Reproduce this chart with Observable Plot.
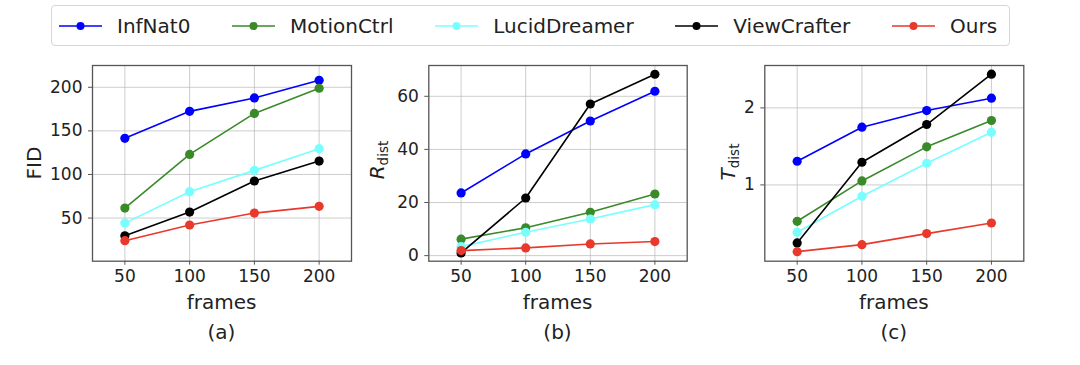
<!DOCTYPE html>
<html><head><meta charset="utf-8">
<script src="https://cdn.jsdelivr.net/npm/d3@7"></script>
<script src="https://cdn.jsdelivr.net/npm/@observablehq/plot@0.6"></script>
<style>
body{margin:0;background:#fff;font-family:"DejaVu Sans",sans-serif;}
#root{position:relative;width:1080px;height:365px;overflow:hidden;background:#fff}
.panel{position:absolute;top:0}
#legend{position:absolute;left:51px;top:5px;width:959px;height:41px;border:1px solid #d6d6d6;border-radius:4px;box-sizing:border-box;display:flex;align-items:center;padding-left:7px;font-size:20px;color:#222;z-index:2;background:#fff}
.item{display:flex;align-items:center;margin-right:41.7px;white-space:nowrap}
.item svg{margin-right:15px}
</style></head>
<body><div id="root"><div id="legend"></div></div>
<script>
const frames = [50, 100, 150, 200];
const methods = ["InfNat0", "MotionCtrl", "LucidDreamer", "ViewCrafter", "Ours"];
const colors = ["#0000ff", "#3a8a2a", "#77ffff", "#000000", "#e8392c"];
// values per method (order as methods), per frames
const fidValues = [
  [141.5, 172.4, 187.8, 208.0],
  [61.5, 123.0, 170.0, 198.9],
  [44.2, 80.2, 104.7, 129.6],
  [29.7, 56.9, 92.5, 115.4],
  [24.0, 42.0, 55.7, 63.4]
];
const rdistValues = [
  [23.6, 38.3, 50.7, 61.9],
  [6.2, 10.5, 16.3, 23.2],
  [3.4, 8.8, 13.8, 19.2],
  [1.0, 21.7, 57.1, 68.3],
  [1.9, 2.9, 4.4, 5.3]
];
const tdistValues = [
  [1.307, 1.749, 1.965, 2.126],
  [0.528, 1.052, 1.494, 1.836],
  [0.385, 0.853, 1.281, 1.684],
  [0.247, 1.294, 1.784, 2.437],
  [0.134, 0.225, 0.368, 0.506]
];
const fidTicks = [50, 100, 150, 200];
const rdistTicks = [0, 20, 40, 60];
const tdistTicks = [1, 2];

function toRows(values) {
  const rows = [];
  methods.forEach((m, i) => frames.forEach((f, j) => rows.push({method: m, frames: f, value: values[i][j]})));
  return rows;
}

const root = document.getElementById("root");

// legend
const legend = document.getElementById("legend");
methods.forEach((m, i) => {
  const it = document.createElement("div");
  it.className = "item";
  it.innerHTML = `<svg width="43" height="20"><line x1="0" y1="10" x2="43" y2="10" stroke="${colors[i]}" stroke-width="1.6"/><circle cx="21.5" cy="10" r="4" fill="${colors[i]}"/></svg><span>${m}</span>`;
  legend.appendChild(it);
});

function panel(values, yDomain, yTicks, left, ml, mr, caption, yLabel, yLabelX, yLabelY) {
  const data = toRows(values);
  const svg = Plot.plot({
    width: 360, height: 365,
    marginLeft: ml, marginRight: mr, marginTop: 65, marginBottom: 104.3,
    style: {fontFamily: "DejaVu Sans", fontSize: "17px", color: "#222", background: "transparent", overflow: "visible"},
    x: {domain: [25, 225]},
    y: {domain: yDomain},
    color: {domain: methods, range: colors},
    marks: [
      Plot.gridX(frames, {stroke: "#b8b8b8", strokeOpacity: 0.7, strokeWidth: 1}),
      Plot.gridY(yTicks, {stroke: "#b8b8b8", strokeOpacity: 0.7, strokeWidth: 1}),
      Plot.line(data, {x: "frames", y: "value", z: "method", stroke: "method", strokeWidth: 1.6}),
      Plot.dot(data, {x: "frames", y: "value", fill: "method", r: 4.6}),
      Plot.frame({stroke: "#555", strokeWidth: 1.3}),
      Plot.axisX(frames, {tickSize: 4, tickPadding: 5, label: null, stroke: "#555", fill: "#222", tickFormat: d => String(d)}),
      Plot.axisY(yTicks, {tickSize: 4, tickPadding: 6, label: null, stroke: "#555", fill: "#222", tickFormat: d => String(d)})
    ]
  });
  const s = d3.select(svg);
  const cx = ml + (360 - ml - mr) / 2;
  s.append("text").attr("x", cx).attr("y", 302).attr("dy", "0.35em")
    .attr("text-anchor", "middle").attr("font-size", 20).attr("fill", "#222").text("frames");
  s.append("text").attr("x", cx).attr("y", 332).attr("dy", "0.35em")
    .attr("text-anchor", "middle").attr("font-size", 20).attr("fill", "#222").text(caption);
  const yl = s.append("text")
    .attr("transform", `translate(${yLabelX},${yLabelY}) rotate(-90)`)
    .attr("dy", "0.35em").attr("text-anchor", "middle").attr("font-size", 20).attr("fill", "#222");
  if (yLabel.sub) {
    yl.append("tspan").attr("font-style", "italic").text(yLabel.main);
    yl.append("tspan").attr("font-size", 13.5).attr("dy", "0.3em").text(yLabel.sub);
  } else {
    yl.text(yLabel.main);
  }
  svg.classList.add("panel");
  svg.style.left = left + "px";
  root.appendChild(svg);
}

panel(fidValues, [0.5, 225], fidTicks, 0, 92, 9, "(a)", {main: "FID"}, 34, 163);
panel(rdistValues, [-2.1, 71.6], rdistTicks, 360, 68.3, 33.3, "(b)", {main: "R", sub: "dist"}, 17, 160);
panel(tdistValues, [0.01, 2.55], tdistTicks, 720, 44.3, 56.7, "(c)", {main: "T", sub: "dist"}, 8, 162);
</script></body></html>
